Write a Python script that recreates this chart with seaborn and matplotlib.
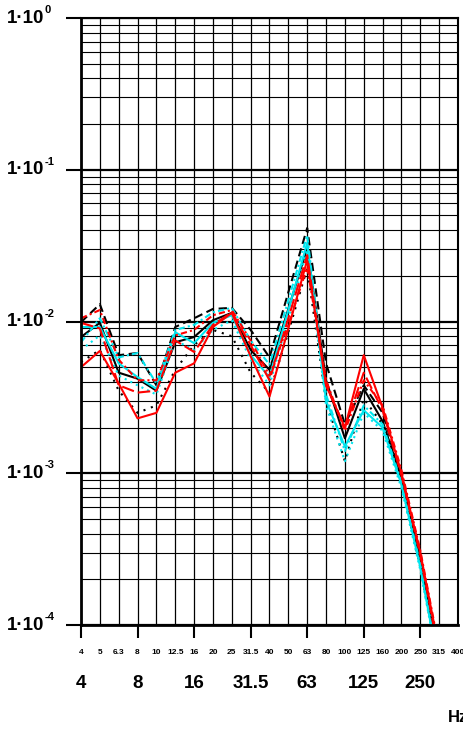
import numpy as np
import pandas as pd
import matplotlib
matplotlib.use("Agg")
import matplotlib.pyplot as plt
import matplotlib.transforms as mtransforms
from matplotlib import font_manager
from matplotlib.ticker import LogLocator, NullFormatter, FixedLocator
import seaborn as sns

# ---------------- data ----------------
bands = ["4", "5", "6.3", "8", "10", "12.5", "16", "20", "25", "31.5", "40",
         "50", "63", "80", "100", "125", "160", "200", "250", "315", "400"]
octave_labels = ["4", "8", "16", "31.5", "63", "125", "250"]
octave_idx = [0, 3, 6, 9, 12, 15, 18]

black_solid = [0.0079, 0.0098, 0.0046, 0.0042, 0.0035, 0.0073, 0.0079, 0.0102, 0.0114, 0.0065,
               0.0048, 0.0121, 0.0305, 0.0041, 0.0017, 0.0036, 0.0022, 0.00093, 0.00027, 0.000056]
black_dashed = [0.0099, 0.0130, 0.0060, 0.0062, 0.0038, 0.0092, 0.0105, 0.0121, 0.0123, 0.0088,
                0.0058, 0.0156, 0.0413, 0.0053, 0.0021, 0.0038, 0.0025, 0.00097, 0.00029, 0.000063]
black_dotted = [0.0054, 0.0065, 0.0035, 0.0025, 0.0028, 0.0048, 0.0070, 0.0088, 0.0080, 0.0046,
                0.0034, 0.0085, 0.0225, 0.0030, 0.0012, 0.0031, 0.0021, 0.00085, 0.00024, 0.000052]
red_solid = [0.0050, 0.0064, 0.0039, 0.0023, 0.0025, 0.0046, 0.0053, 0.0092, 0.0114, 0.0059,
             0.0032, 0.0090, 0.0254, 0.0038, 0.0020, 0.0060, 0.0027, 0.0010, 0.00030, 0.000068]
red_dashed = [0.0098, 0.0090, 0.0038, 0.0034, 0.0035, 0.0075, 0.0063, 0.0095, 0.0115, 0.0070,
              0.0041, 0.0105, 0.0274, 0.0038, 0.0020, 0.0046, 0.0026, 0.00097, 0.00029, 0.000063]
red_dashdot = [0.0105, 0.0119, 0.0056, 0.0041, 0.0041, 0.0081, 0.0088, 0.0110, 0.0119, 0.0075,
               0.0044, 0.0095, 0.0228, 0.0041, 0.0019, 0.0041, 0.0028, 0.00105, 0.00031, 0.000070]
cyan_solid = [0.0092, 0.0092, 0.0053, 0.0043, 0.0036, 0.0085, 0.0072, 0.0098, 0.0110, 0.0060,
              0.0043, 0.0119, 0.0329, 0.0030, 0.0015, 0.0026, 0.0020, 0.00084, 0.00024, 0.000051]
cyan_dashdot = [0.0073, 0.0105, 0.0058, 0.0062, 0.0039, 0.0088, 0.0095, 0.0115, 0.0123, 0.0075,
                0.0052, 0.0138, 0.0371, 0.0033, 0.0014, 0.0028, 0.0021, 0.00087, 0.00025, 0.000052]
cyan_dotted = [0.0065, 0.0081, 0.0044, 0.0038, 0.0033, 0.0075, 0.0065, 0.0088, 0.0102, 0.0056,
               0.0038, 0.0105, 0.0296, 0.0028, 0.0012, 0.0025, 0.0019, 0.00080, 0.00023, 0.000050]

series = {
    "black_solid": black_solid, "black_dashed": black_dashed, "black_dotted": black_dotted,
    "cyan_solid": cyan_solid, "cyan_dashdot": cyan_dashdot, "cyan_dotted": cyan_dotted,
    "red_dashed": red_dashed, "red_dashdot": red_dashdot, "red_solid": red_solid,
}
colors = {
    "black_solid": "black", "black_dashed": "black", "black_dotted": "black",
    "red_solid": "#ff0000", "red_dashed": "#ff0000", "red_dashdot": "#ff0000",
    "cyan_solid": "#00e5ee", "cyan_dashdot": "#00e5ee", "cyan_dotted": "#00e5ee",
}
dashes = {
    "black_solid": "", "black_dashed": (4, 2.2), "black_dotted": (1, 2.8),
    "red_solid": "", "red_dashed": (6, 2), "red_dashdot": (3, 1.5, 1, 1.5),
    "cyan_solid": "", "cyan_dashdot": (3, 1.5, 1, 1.5), "cyan_dotted": (1, 2),
}

rows = []
for name, vals in series.items():
    for i, v in enumerate(vals):
        rows.append({"pos": i, "value": v, "series": name})
df = pd.DataFrame(rows)

# ---------------- style ----------------
sns.set_style("white")
names = {f.name for f in font_manager.fontManager.ttflist}
if "Liberation Sans Narrow" in names:
    FAM = ["Liberation Sans Narrow", "DejaVu Sans"]
    big, small, sup, hz = 15, 6.8, 8, 12
else:
    FAM = ["Liberation Sans", "DejaVu Sans"]
    big, small, sup, hz = 13.5, 6, 8, 12
plt.rcParams["font.family"] = FAM
plt.rcParams["text.color"] = "black"

fig = plt.figure(figsize=(4.64, 7.31), dpi=100)
W, H = 464, 731
x0, x1, y0, y1 = 81, 458, 18, 625
ax = fig.add_axes([x0 / W, 1 - y1 / H, (x1 - x0) / W, (y1 - y0) / H])

sns.lineplot(data=df, x="pos", y="value", hue="series", style="series",
             palette=colors, dashes=dashes, hue_order=list(series.keys()),
             style_order=list(series.keys()), legend=False, lw=1.5, ax=ax)

ax.set_yscale("log")
ax.set_ylim(1e-4, 1)
ax.set_xlim(0, 20)
ax.set_xlabel("")
ax.set_ylabel("")

# grid
ax.yaxis.set_major_locator(FixedLocator([1e-4, 1e-3, 1e-2, 1e-1, 1]))
ax.yaxis.set_minor_locator(LogLocator(base=10, subs=np.arange(2, 10)))
ax.yaxis.set_major_formatter(NullFormatter())
ax.yaxis.set_minor_formatter(NullFormatter())
ax.set_xticks(octave_idx)
ax.set_xticks(range(len(bands)), minor=True)
ax.set_xticklabels([])
ax.grid(True, which="major", axis="y", color="black", lw=1.6, zorder=0)
ax.grid(True, which="minor", axis="y", color="black", lw=0.8, zorder=0)
ax.grid(True, which="both", axis="x", color="black", lw=0.9, zorder=0)
ax.set_axisbelow(True)

ax.tick_params(axis="y", which="major", direction="out", length=11, width=1.5, color="black", left=True)
ax.tick_params(axis="y", which="minor", length=0)
ax.tick_params(axis="x", which="major", direction="out", length=9.5, width=1.5, color="black", bottom=True)
ax.tick_params(axis="x", which="minor", length=0)

for s in ["left", "bottom"]:
    ax.spines[s].set_linewidth(2.0)
    ax.spines[s].set_color("black")
for s in ["top", "right"]:
    ax.spines[s].set_linewidth(1.5)
    ax.spines[s].set_color("black")

# y labels: 1·10^n
ytr = ax.get_yaxis_transform()
for e in [0, -1, -2, -3, -4]:
    v = 10.0 ** e
    ax.text((44 - x0) / (x1 - x0), v, "1·10", transform=ytr, ha="right", va="center",
            fontsize=big, fontweight="bold", color="black", clip_on=False)
    off = mtransforms.ScaledTranslation(0, 3 / 100, fig.dpi_scale_trans)
    ax.text((45 - x0) / (x1 - x0), v, str(e), transform=ytr + off, ha="left", va="bottom",
            fontsize=sup, fontweight="bold", color="black", clip_on=False)

# x labels
xtr = ax.get_xaxis_transform()
for i, b in enumerate(bands):
    ax.text(i, -(653 - y1) / (y1 - y0), b, transform=xtr, ha="center", va="center",
            fontsize=small, fontweight="bold", color="black", clip_on=False)
for i, b in zip(octave_idx, octave_labels):
    ax.text(i, -(683 - y1) / (y1 - y0), b, transform=xtr, ha="center", va="center",
            fontsize=big, fontweight="bold", color="black", clip_on=False)

fig.text(448 / W, 1 - 718 / H, "Hz", ha="left", va="center", fontsize=hz,
         fontweight="bold", color="black")

fig.savefig("out.png", dpi=100)
